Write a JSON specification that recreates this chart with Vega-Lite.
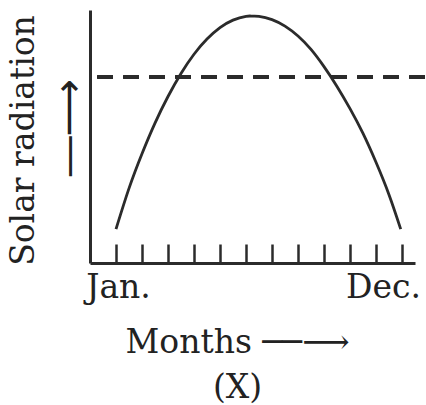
{
  "$schema": "https://vega.github.io/schema/vega-lite/v6.json",
  "autosize": "none",
  "width": 325,
  "height": 253,
  "padding": {"left": 90, "top": 10, "right": 11, "bottom": 142},
  "background": "white",
  "config": {"view": {"stroke": null}, "font": "DejaVu Serif"},
  "data": {
    "values": [
      {"month": 1.0, "radiation": 13.4},
      {"month": 1.5, "radiation": 29.5},
      {"month": 2.0, "radiation": 43.2},
      {"month": 2.5, "radiation": 55.3},
      {"month": 3.0, "radiation": 65.8},
      {"month": 3.5, "radiation": 74.9},
      {"month": 4.0, "radiation": 82.5},
      {"month": 4.5, "radiation": 88.5},
      {"month": 5.0, "radiation": 93.0},
      {"month": 5.5, "radiation": 96.0},
      {"month": 6.0, "radiation": 97.5},
      {"month": 6.24, "radiation": 97.6},
      {"month": 6.5, "radiation": 97.5},
      {"month": 7.0, "radiation": 96.2},
      {"month": 7.5, "radiation": 93.6},
      {"month": 8.0, "radiation": 89.7},
      {"month": 8.5, "radiation": 84.4},
      {"month": 9.0, "radiation": 77.6},
      {"month": 9.5, "radiation": 69.8},
      {"month": 10.0, "radiation": 61.0},
      {"month": 10.5, "radiation": 51.2},
      {"month": 11.0, "radiation": 39.8},
      {"month": 11.5, "radiation": 27.0},
      {"month": 11.95, "radiation": 13.4}
    ]
  },
  "resolve": {"axis": {"y": "independent"}},
  "layer": [
    {
      "mark": {"type": "line", "interpolate": "natural", "color": "#2b2b2b", "strokeWidth": 2.8},
      "encoding": {
        "x": {
          "field": "month",
          "type": "quantitative",
          "scale": {"domain": [0, 12.5], "nice": false, "zero": false},
          "axis": {
            "values": [1, 2, 3, 4, 5, 6, 7, 8, 9, 10, 11, 12],
            "tickCount": 12,
            "grid": false,
            "domainColor": "#2b2b2b",
            "domainWidth": 3,
            "tickColor": "#2b2b2b",
            "tickWidth": 2.5,
            "tickSize": -19,
            "labelOverlap": false,
            "labelBound": false,
            "labelFlush": false,
            "labelExpr": "datum.value == 1 ? 'Jan.' : datum.value == 12 ? 'Dec.' : ''",
            "labelFont": "DejaVu Serif",
            "labelFontSize": 33,
            "labelColor": "#222",
            "labelPadding": 27,
            "labelOffset": {"condition": {"test": "datum.value == 12", "value": -19}, "value": 2},
            "title": ["Months ──⟶", "(X)"],
            "titleFont": "DejaVu Serif, DejaVu Sans",
            "titleFontSize": 33,
            "titleFontWeight": "normal",
            "titleColor": "#222",
            "titleLineHeight": 45,
            "titleBaseline": "alphabetic",
            "titleAlign": "center",
            "titleX": 147,
            "titleY": 89
          }
        },
        "y": {
          "field": "radiation",
          "type": "quantitative",
          "scale": {"domain": [0, 100], "nice": false},
          "axis": {
            "grid": false,
            "ticks": false,
            "labels": false,
            "domainColor": "#2b2b2b",
            "domainWidth": 3,
            "title": "Solar radiation",
            "titleFont": "DejaVu Serif",
            "titleFontSize": 33,
            "titleFontWeight": "normal",
            "titleColor": "#222",
            "titleAngle": -90,
            "titleBaseline": "alphabetic",
            "titleAlign": "center",
            "titleX": -57,
            "titleY": 130
          }
        }
      }
    },
    {
      "mark": {"type": "rule", "color": "#2b2b2b", "strokeWidth": 3, "strokeDash": [15, 11], "clip": false},
      "encoding": {
        "y": {
          "datum": 73.5,
          "axis": {
            "orient": "right",
            "grid": false,
            "ticks": false,
            "labels": false,
            "domain": false,
            "title": "―⟶",
            "titleFont": "DejaVu Sans",
            "titleFontSize": 40,
            "titleFontWeight": "normal",
            "titleColor": "#222",
            "titleAngle": -90,
            "titleBaseline": "alphabetic",
            "titleAlign": "center",
            "titleX": -334,
            "titleY": 117
          }
        },
        "x": {"datum": 0.3},
        "x2": {"datum": 12.9}
      }
    }
  ]
}
